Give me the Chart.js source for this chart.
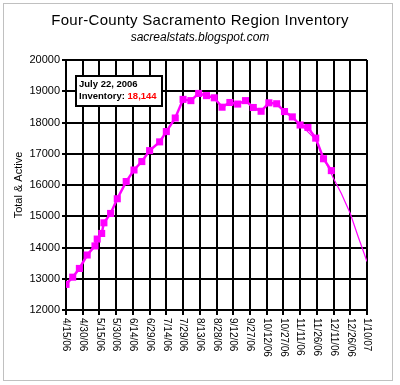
<!DOCTYPE html>
<html>
<head>
<meta charset="utf-8">
<script src="https://cdn.jsdelivr.net/npm/chart.js@4.4.0/dist/chart.umd.min.js"></script>
<style>
  html, body { margin: 0; padding: 0; background: #fff; }
  #wrap { position: relative; width: 400px; height: 385px; }
</style>
</head>
<body>
<div id="wrap"><canvas id="inventoryChart"></canvas></div>
<script>
const chartTitle = 'Four-County Sacramento Region Inventory';
const chartSubtitle = 'sacrealstats.blogspot.com';
const yAxisTitle = 'Total & Active';

// x values are days after 4/15/06, ticks every 15 days
const dateLabels = ['4/15/06', '4/30/06', '5/15/06', '5/30/06', '6/14/06', '6/29/06', '7/14/06',
  '7/29/06', '8/13/06', '8/28/06', '9/12/06', '9/27/06', '10/12/06', '10/27/06', '11/11/06',
  '11/26/06', '12/11/06', '12/26/06', '1/10/07'];

const inventoryDays = [0, 6, 12, 19, 26, 28, 32, 34, 40, 46, 54, 61, 68, 75, 84, 90, 98, 105, 112,
  119, 126, 133, 140, 147, 154, 161, 168, 175, 182, 189, 196, 203, 210, 217, 224, 231, 238];
const inventory = [12820, 13050, 13330, 13760, 14050, 14270, 14450, 14790, 15090, 15560, 16110,
  16480, 16750, 17100, 17380, 17710, 18144, 18740, 18700, 18930, 18860, 18790, 18490, 18640,
  18590, 18700, 18480, 18360, 18630, 18600, 18350, 18180, 17920, 17840, 17500, 16840, 16460];

// thin projection line at the right
const trendDays = [210, 224, 231, 240, 247, 255, 262, 270];
const trendValues = [17950, 17450, 16880, 16210, 15730, 15090, 14350, 13550];

const calloutDate = 'July 22, 2006';
const calloutLabel = 'Inventory: ';
const calloutValue = '18,144';

const FONT = 'Liberation Sans, Arial, sans-serif';

const extras = {
  id: 'extras',
  beforeDraw(chart) {
    const ctx = chart.ctx;
    ctx.save();
    ctx.fillStyle = '#fff';
    ctx.fillRect(0, 0, chart.width, chart.height);
    ctx.strokeStyle = '#c0c0c0';
    ctx.lineWidth = 1;
    ctx.strokeRect(3.5, 3.5, 389, 377);
    ctx.restore();
  },
  afterDraw(chart) {
    const ctx = chart.ctx;
    const xs = chart.scales.x;
    ctx.save();
    // titles
    ctx.fillStyle = '#000';
    ctx.textAlign = 'center';
    ctx.textBaseline = 'middle';
    ctx.font = '15px ' + FONT;
    ctx.letterSpacing = '0.3px';
    ctx.fillText(chartTitle, 200, 21);
    ctx.letterSpacing = '0px';
    ctx.font = 'italic 12px ' + FONT;
    ctx.fillText(chartSubtitle, 200, 38);

    // x labels, rotated clockwise
    ctx.font = '10px ' + FONT;
    ctx.textAlign = 'left';
    xs.ticks.forEach((t, i) => {
      const x = xs.getPixelForValue(t.value);
      ctx.save();
      ctx.translate(x, 318);
      ctx.rotate(Math.PI / 2);
      ctx.fillText(dateLabels[i], 0, 0);
      ctx.restore();
    });

    // callout box
    ctx.fillStyle = '#fff';
    ctx.fillRect(76, 76, 86, 30);
    ctx.strokeStyle = '#000';
    ctx.lineWidth = 2;
    ctx.strokeRect(76, 76, 86, 30);
    ctx.font = 'bold 9.5px ' + FONT;
    ctx.fillStyle = '#000';
    ctx.fillText(calloutDate, 79, 84);
    ctx.fillText(calloutLabel, 79, 96);
    const w = ctx.measureText(calloutLabel).width;
    ctx.fillStyle = '#ff0000';
    ctx.fillText(calloutValue, 79 + w, 96);
    ctx.restore();
  }
};

new Chart(document.getElementById('inventoryChart'), {
  type: 'line',
  data: {
    datasets: [{
      label: 'Inventory',
      data: inventoryDays.map((d, i) => ({ x: d, y: inventory[i] })),
      borderColor: '#ff00ff',
      backgroundColor: '#ff00ff',
      borderWidth: 2.5,
      pointStyle: 'rect',
      pointRadius: 5,
      pointBorderWidth: 0,
      tension: 0,
    }, {
      label: 'Trend',
      data: trendDays.map((d, i) => ({ x: d, y: trendValues[i] })),
      borderColor: '#ff00ff',
      borderWidth: 1.2,
      pointRadius: 0,
      tension: 0,
    }],
  },
  options: {
    responsive: true,
    maintainAspectRatio: false,
    animation: false,
    layout: { padding: { top: 60, right: 33, bottom: 0, left: 0 } },
    plugins: {
      legend: { display: false },
      tooltip: { enabled: false },
    },
    scales: {
      x: {
        type: 'linear',
        min: 0,
        max: 270,
        ticks: { display: false, stepSize: 15, autoSkip: false, maxTicksLimit: 30 },
        grid: { color: '#000', lineWidth: 2, tickLength: 5 },
        border: { color: '#000', width: 2 },
        afterFit(scale) { scale.height = 75; },
      },
      y: {
        min: 12000,
        max: 20000,
        ticks: {
          stepSize: 1000,
          color: '#000',
          font: { family: FONT, size: 11 },
          padding: 2,
          callback: (v) => String(v),
        },
        grid: { color: '#000', lineWidth: 2, tickLength: 4 },
        border: { color: '#000', width: 2 },
        title: {
          display: true,
          text: yAxisTitle,
          color: '#000',
          font: { family: FONT, size: 11 },
          padding: { top: 12, bottom: 0 },
        },
        afterFit(scale) { scale.width = 66; },
      },
    },
  },
  plugins: [extras],
});
</script>
</body>
</html>
